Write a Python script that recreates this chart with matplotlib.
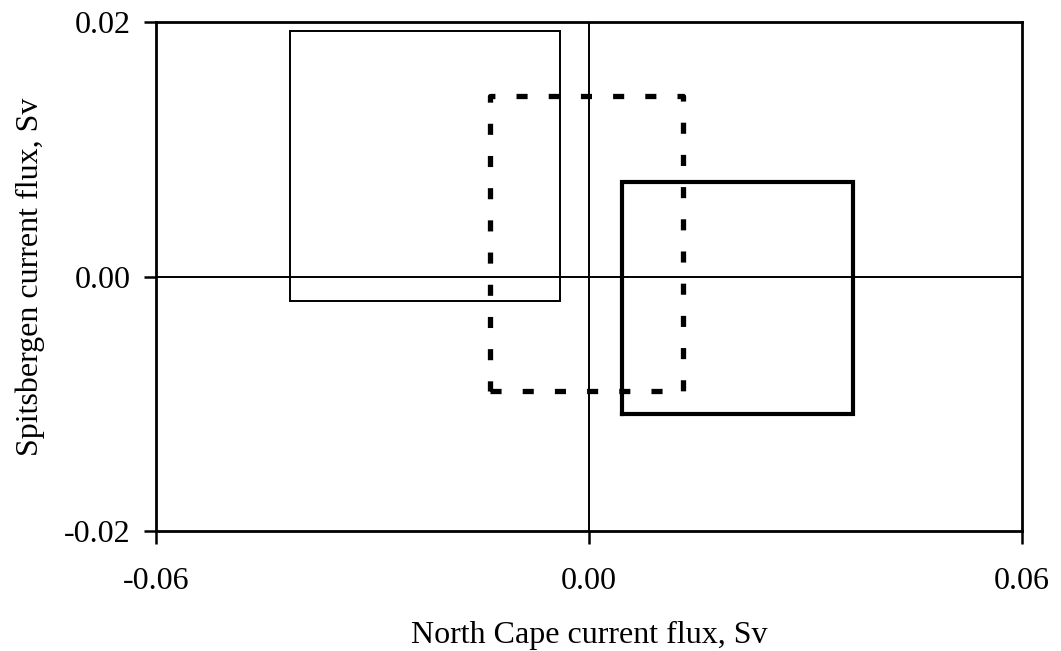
import matplotlib
matplotlib.use("Agg")
import matplotlib.pyplot as plt
import matplotlib.ticker as mtick

# flux ranges (Sv): x = North Cape, y = Spitsbergen
box_names = ["thin", "dashed", "thick"]
box_x = [(-0.0414, -0.0040), (-0.0137, 0.0130), (0.0046, 0.0366)]
box_y = [(-0.0019, 0.0193), (-0.0090, 0.0142), (-0.0108, 0.0074)]

x_ticks = [-0.06, 0.00, 0.06]
y_ticks = [-0.02, 0.00, 0.02]

plt.rcParams["font.family"] = ["Liberation Serif", "DejaVu Serif"]
plt.rcParams["axes.unicode_minus"] = False

styles = {
    "thin": dict(linewidth=1.4, linestyle="-"),
    "dashed": dict(linewidth=3.8, linestyle=(0, (2.1, 4.0))),
    "thick": dict(linewidth=3.0, linestyle="-"),
}

fig = plt.figure(figsize=(10.61, 6.51), dpi=100)
ax = fig.add_axes([0.147, 0.184, 0.816, 0.782])

ax.axhline(0, color="black", linewidth=1.4, zorder=1)
ax.axvline(0, color="black", linewidth=1.4, zorder=1)

for name, (x0, x1), (y0, y1) in zip(box_names, box_x, box_y):
    xs = [x0, x1, x1, x0, x0]
    ys = [y0, y0, y1, y1, y0]
    ax.plot(xs, ys, color="black", solid_joinstyle="miter",
            dash_capstyle="butt", zorder=2, **styles[name])

ax.set_xlim(-0.06, 0.06)
ax.set_ylim(-0.02, 0.02)
ax.set_xticks(x_ticks)
ax.set_yticks(y_ticks)
ax.xaxis.set_major_formatter(mtick.StrMethodFormatter("{x:.2f}"))
ax.yaxis.set_major_formatter(mtick.StrMethodFormatter("{x:.2f}"))
ax.tick_params(direction="out", length=9, width=1.8, labelsize=23)
ax.tick_params(axis="x", pad=17)
ax.tick_params(axis="y", pad=9)
for s in ax.spines.values():
    s.set_linewidth(2.0)

ax.set_xlabel("North Cape current flux, Sv", fontsize=23, labelpad=18)
ax.set_ylabel("Spitsbergen current flux, Sv", fontsize=23, labelpad=14)

fig.savefig("out.png", dpi=100)
